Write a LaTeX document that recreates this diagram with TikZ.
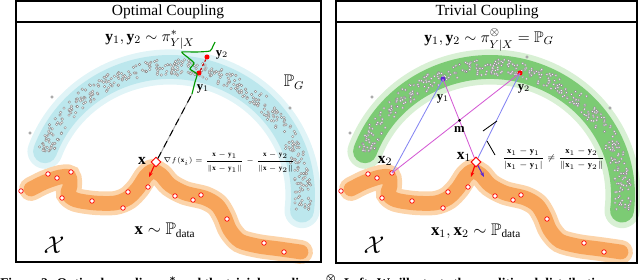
\documentclass[tikz,border=0pt]{standalone}
\usepackage{amsmath,amssymb}
\usepackage{fontspec}
\setmainfont{Liberation Serif}
\usetikzlibrary{arrows.meta,shapes.geometric}

\definecolor{cyaninner}{HTML}{BCE7ED}
\definecolor{cyanouter}{HTML}{E0F4F7}
\definecolor{greeninner}{HTML}{7CCB74}
\definecolor{greenouter}{HTML}{D8F0D4}
\definecolor{orangeinner}{HTML}{F7A45A}
\definecolor{orangeouter}{HTML}{FCD4AA}
\definecolor{lineblue}{HTML}{8585F2}
\definecolor{linemag}{HTML}{D45AD4}
\definecolor{ptpurple}{HTML}{5A28D2}

% band through the generated samples and band through the data
\newcommand{\genpath}{(170,195) ++(-160:133 and 128) arc[start angle=-160, end angle=7, x radius=133, y radius=128]}
\newcommand{\datapath}{plot[smooth] coordinates {(31,189) (45,182) (60,177) (69,177) (70,186) (68,194) (76,200) (95,203) (115,203) (128,198) (138,188) (146,176) (153,171) (161,175) (170,185) (185,193) (205,198) (217,205) (224,216) (230,230) (240,241) (258,246) (280,249) (301,252)}}

\begin{document}
\begin{tikzpicture}[x=0.025cm, y=-0.025cm,
    panel/.style={draw=black, line width=1.1pt},
    ptitle/.style={font=\fontsize{11}{13}\selectfont},
    dpt/.style={circle, draw=red, fill=white, line width=0.5pt, inner sep=0pt, minimum size=3.2pt},
    bigpt/.style={diamond, draw=red, fill=white, line width=0.6pt, inner sep=0pt, minimum size=7pt},
    ydot/.style={circle, fill=#1, inner sep=0pt, minimum size=3.6pt},
    gdot/.style={draw=black!45, fill=white, line width=0.3pt},
    harrow/.style={-{Stealth[length=3.5pt]}, line width=0.8pt},
    bline/.style={lineblue, line width=0.6pt},
    mline/.style={linemag, line width=0.6pt}
  ]
    \useasboundingbox (0,0) rectangle (640,279);

    % Bands and samples, same in both panels
    \foreach \ox/\bin/\bout in {0/cyaninner/cyanouter, 320/greeninner/greenouter}{
      \begin{scope}[shift={(\ox,0)}]
        \draw[\bout, line width=25pt, line cap=round] \genpath;
        \draw[\bin, line width=17pt, line cap=round] \genpath;
        \pgfmathsetseed{4711}
        \foreach \i in {1,...,420}{
          \pgfmathsetmacro\t{-76.5+83.5*rand}
          \pgfmathsetmacro\r{8*rand}
          \draw[gdot] ({170+(133+\r)*cos(\t)},{195+(128+\r)*sin(\t)}) circle (0.9pt);
        }
        \foreach \p in {(52,97),(290,108),(30,133),(207,57)}
          \draw[gdot] \p circle (0.9pt);
        \draw[orangeouter, line width=17pt, line cap=round] \datapath;
        \draw[orangeinner, line width=10.5pt, line cap=round] \datapath;
        \foreach \p in {(21,191),(48,174),(57,178),(62,198),(92,201),(123,208),(128,192),(148,187),(175,196),(193,200),(201,195),(227,219),(264,243),(284,252)}
          \node[dpt] at \p {};
      \end{scope}
    }

    % Left panel: Optimal Coupling
    \draw[panel] (16,1) rectangle (321,262);
    \draw[panel] (16,22) -- (321,22);
    \node[ptitle] (ltitle) at (168,11.5) {Optimal Coupling};
    \node[font=\fontsize{11}{13}\selectfont] (lhead) at (150,40) {$\mathbf{y}_1,\mathbf{y}_2\sim\pi^{*}_{Y|X}$};
    \node[font=\fontsize{12}{14}\selectfont] (lpg) at (294,82) {$\mathbb{P}_G$};
    \node[dpt] (lxo) at (71,172) {};
    \node[bigpt] (lx) at (156,162) {};
    \node[font=\fontsize{11}{13}\selectfont] (lxl) at (142,161) {$\mathbf{x}$};
    \coordinate (lxa) at (149,177);
    \coordinate (lend) at (192,94);
    \node[ydot=red] (ly1) at (199,73) {};
    \node[ydot=red] (ly2) at (207,57) {};
    \node[font=\fontsize{9}{11}\selectfont] at (203,89) {$\mathbf{y}_1$};
    \node[font=\fontsize{9}{11}\selectfont] at (222,55) {$\mathbf{y}_2$};
    \draw[black!35, line width=0.7pt] (lx) -- (lend);
    \draw[black, line width=0.7pt, dash pattern=on 5pt off 4pt] (lx) -- (lend);
    \draw[green!60!black, line width=0.8pt] plot[smooth, tension=0.4] coordinates {(192,94) (195,82) (197,74) (190,69) (194,63) (186,56) (182,52) (196,52) (210,51) (213,46) (215,42)};
    \draw[red!80!black, line width=0.8pt, dash pattern=on 2pt off 1.5pt] (ly1) -- (ly2);
    \draw[harrow, red] (lx) -- (lxa);
    \node[anchor=west, font=\fontsize{5}{6}\selectfont, inner sep=0pt] (lgrad) at (163,162) {$\displaystyle\nabla f(\mathbf{x}_i)=\frac{\mathbf{x}-\mathbf{y}_1}{\|\mathbf{x}-\mathbf{y}_1\|}-\frac{\mathbf{x}-\mathbf{y}_2}{\|\mathbf{x}-\mathbf{y}_2\|}$};
    \node[font=\fontsize{12}{14}\selectfont] (ldata) at (165,230) {$\mathbf{x}\sim\mathbb{P}_{\mathrm{data}}$};
    \node[font=\fontsize{17}{20}\selectfont] (lspace) at (54,245) {$\mathcal{X}$};

    % Right panel: Trivial Coupling
    \draw[panel] (336,1) rectangle (637,263);
    \draw[panel] (336,22) -- (637,22);
    \node[ptitle] (rtitle) at (487,11.5) {Trivial Coupling};
    \node[font=\fontsize{11}{13}\selectfont] (rhead) at (489,40) {$\mathbf{y}_1,\mathbf{y}_2\sim\pi^{\otimes}_{Y|X}=\mathbb{P}_G$};
    \node[ydot=ptpurple] (ry1) at (443,79) {};
    \node[ydot=red] (ry2) at (520,73) {};
    \node[font=\fontsize{9}{11}\selectfont] at (443,99) {$\mathbf{y}_1$};
    \node[font=\fontsize{9}{11}\selectfont] at (524,89) {$\mathbf{y}_2$};
    \node[dpt] (rx2) at (392,173) {};
    \node[bigpt] (rx1) at (476,162) {};
    \node[font=\fontsize{11}{13}\selectfont] at (385,161) {$\mathbf{x}_2$};
    \node[font=\fontsize{11}{13}\selectfont] at (464,157) {$\mathbf{x}_1$};
    \draw[bline] (ry1.center) -- (rx2.center);
    \draw[mline] (ry1.center) -- (rx1.center);
    \draw[bline] (ry2.center) -- (rx1.center);
    \draw[mline] (ry2.center) -- (rx2.center);
    \coordinate (m) at (intersection of ry1--rx1 and ry2--rx2);
    \fill (m) circle (1.1pt);
    \node[font=\fontsize{9}{11}\selectfont, below=1pt] at (m) {$\mathbf{m}$};
    \coordinate (ga) at (483,131);
    \coordinate (gb) at (497,121);
    \coordinate (gc) at (487,141);
    \coordinate (gd) at (495,155);
    \draw[line width=0.6pt] (ga) -- (gb);
    \draw[line width=0.6pt] (gc) -- (gd);
    \node[bigpt] at (rx1) {};
    \coordinate (rxa) at (471,177);
    \coordinate (rxb) at (484,177);
    \draw[harrow, red] (rx1) -- (rxa);
    \draw[harrow, ptpurple] (rx1) -- (rxb);
    \node[anchor=west, font=\fontsize{6}{7}\selectfont, inner sep=0pt] (rgrad) at (502,159) {$\displaystyle\frac{\mathbf{x}_1-\mathbf{y}_1}{|\mathbf{x}_1-\mathbf{y}_1|}\neq\frac{\mathbf{x}_1-\mathbf{y}_2}{\|\mathbf{x}_1-\mathbf{y}_2\|}$};
    \node[font=\fontsize{12}{14}\selectfont] (rdata) at (476,231) {$\mathbf{x}_1,\mathbf{x}_2\sim\mathbb{P}_{\mathrm{data}}$};
    \node[font=\fontsize{17}{20}\selectfont] (rspace) at (374,245) {$\mathcal{X}$};

    % Caption, cut by the page edge
    \node[anchor=base west, inner sep=0pt, font=\fontsize{9.5}{11}\selectfont\bfseries] (cap) at (0,287) {Figure 2: Optimal coupling $\boldsymbol{\pi^*}$ and the trivial coupling $\boldsymbol{\pi^{\otimes}}$. Left: We illustrate the conditional distribution};
\end{tikzpicture}
\end{document}
